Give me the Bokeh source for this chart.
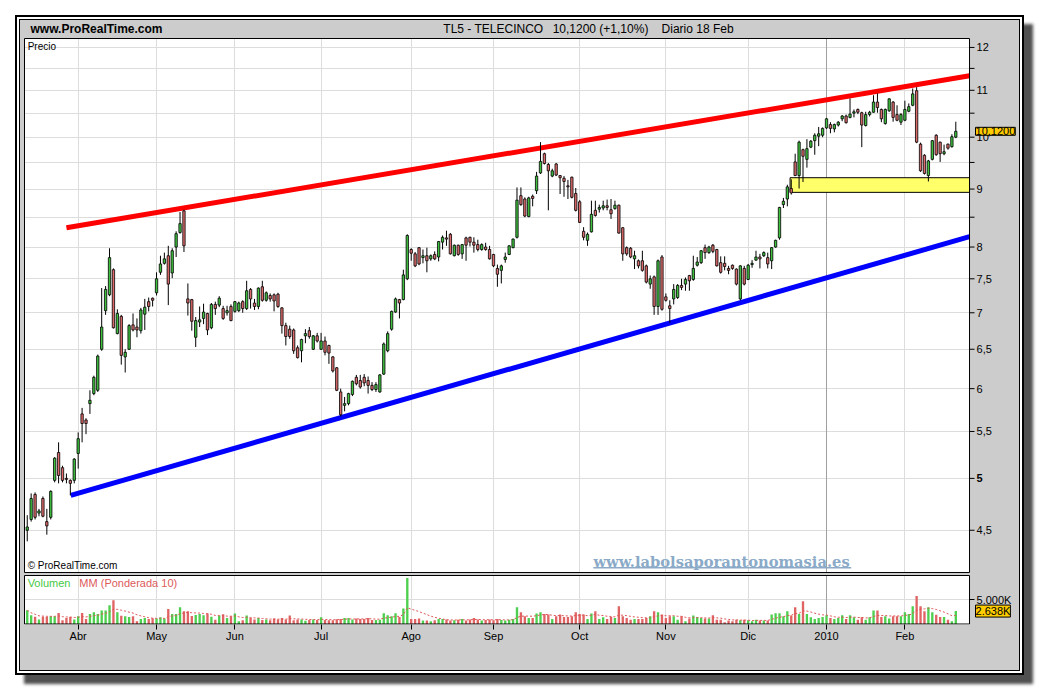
import math
from bokeh.plotting import figure
from bokeh.layouts import column
from bokeh.models import Range1d, FixedTicker, Label, Grid
from bokeh.core.properties import value
from bokeh.embed import file_html
from bokeh.resources import INLINE

# ---------------- data ----------------
month_ticks = [13, 33, 53, 75, 98, 119, 141, 163, 184, 204, 224]
month_labels = ["Abr", "May", "Jun", "Jul", "Ago", "Sep", "Oct", "Nov", "Dic", "2010", "Feb"]
year_tick = [204]
price_ticks = [4.5, 5, 5.5, 6, 6.5, 7, 7.5, 8, 9, 10, 11, 12]
price_tick_labels = ["4,5", "5", "5,5", "6", "6,5", "7", "7,5", "8", "9", "10", "11", "12"]
price_minor = [8.5, 9.5, 10.5, 11.5]
volume_ticks = [5000]
volume_tick_labels = ["5.000K"]

opens = [4.50, 4.60, 4.84, 4.66, 4.80, 4.58, 4.62, 4.98, 5.27, 5.11,
         5.00, 4.98, 4.98, 5.26, 5.70, 5.63, 5.82, 5.94, 5.98, 6.50,
         7.03, 7.26, 7.64, 6.71, 6.95, 6.40, 6.50, 6.83, 6.80, 6.75,
         6.98, 7.16, 7.21, 7.29, 7.60, 7.74, 7.86, 7.59, 8.00, 8.24,
         8.61, 7.20, 7.19, 6.66, 6.87, 6.92, 6.99, 6.79, 7.12, 7.11,
         7.06, 7.00, 7.09, 7.02, 7.03, 7.16, 7.06, 7.34, 7.14, 7.09,
         7.38, 7.18, 7.25, 7.26, 7.27, 7.07, 6.82, 6.77, 6.76, 6.52,
         6.48, 6.68, 6.75, 6.50, 6.68, 6.50, 6.61, 6.55, 6.40, 6.26,
         5.96, 5.80, 5.82, 5.93, 6.14, 6.10, 6.14, 6.10, 6.04, 5.99,
         5.96, 6.18, 6.48, 6.77, 7.01, 7.19, 7.19, 7.50, 7.96, 7.89,
         7.99, 7.83, 7.86, 7.81, 7.88, 7.84, 8.08, 8.15, 8.21, 7.86,
         8.03, 7.89, 8.15, 8.16, 8.08, 8.04, 7.96, 8.00, 7.96, 7.88,
         7.66, 7.63, 7.80, 7.88, 7.99, 8.16, 8.88, 8.82, 8.51, 8.87,
         8.97, 9.30, 9.67, 9.46, 9.24, 9.47, 9.25, 9.20, 9.06, 9.22,
         8.92, 8.77, 8.26, 8.11, 8.25, 8.62, 8.64, 8.66, 8.70, 8.63,
         8.65, 8.71, 8.32, 7.99, 7.98, 7.81, 7.78, 7.78, 7.70, 7.42,
         7.53, 7.09, 7.84, 7.23, 7.10, 7.20, 7.22, 7.40, 7.42, 7.55,
         7.49, 7.71, 7.75, 7.99, 7.91, 8.03, 7.96, 7.75, 7.74, 7.66,
         7.71, 7.65, 7.20, 7.66, 7.49, 7.72, 7.79, 7.84, 7.86, 7.83,
         7.78, 8.00, 8.15, 8.72, 8.82, 9.01, 9.51, 9.25, 9.75, 9.56,
         9.80, 9.93, 10.02, 10.04, 10.19, 10.26, 10.17, 10.25, 10.38, 10.44,
         10.41, 10.50, 10.58, 10.51, 10.24, 10.47, 10.52, 10.74, 10.58, 10.28,
         10.55, 10.74, 10.47, 10.31, 10.35, 10.54, 10.67, 10.99, 9.86, 9.64,
         9.25, 9.56, 10.04, 9.90, 9.67, 9.86, 9.81, 10.00]
highs = [4.64, 4.85, 4.86, 4.70, 4.82, 4.70, 4.88, 5.22, 5.38, 5.13,
         5.05, 4.99, 5.21, 5.49, 5.77, 5.65, 5.98, 6.16, 6.43, 7.36,
         7.39, 7.98, 7.66, 7.05, 6.97, 6.50, 6.84, 6.99, 6.92, 7.07,
         7.20, 7.22, 7.22, 7.60, 7.86, 7.91, 8.02, 7.98, 8.26, 8.59,
         8.63, 7.43, 7.20, 6.94, 7.09, 7.13, 7.00, 7.14, 7.16, 7.24,
         7.10, 7.10, 7.12, 7.17, 7.16, 7.18, 7.47, 7.36, 7.20, 7.37,
         7.47, 7.31, 7.28, 7.28, 7.29, 7.08, 6.86, 6.82, 6.78, 6.55,
         6.64, 6.77, 6.80, 6.69, 6.72, 6.72, 6.67, 6.56, 6.41, 6.27,
         6.00, 5.90, 5.95, 6.10, 6.17, 6.17, 6.18, 6.15, 6.08, 6.08,
         6.18, 6.59, 6.74, 7.03, 7.22, 7.20, 7.64, 8.21, 7.98, 7.92,
         8.00, 7.96, 7.99, 7.88, 7.93, 8.10, 8.19, 8.27, 8.23, 8.04,
         8.04, 8.05, 8.17, 8.17, 8.16, 8.12, 8.06, 8.07, 8.02, 7.89,
         7.72, 7.72, 7.91, 8.03, 8.14, 9.03, 9.03, 8.85, 8.86, 8.90,
         9.32, 9.90, 9.69, 9.49, 9.38, 9.49, 9.26, 9.24, 9.17, 9.23,
         9.02, 8.80, 8.33, 8.24, 8.79, 8.79, 8.72, 8.79, 8.81, 8.82,
         8.79, 8.72, 8.33, 8.01, 8.00, 7.94, 7.80, 7.94, 7.72, 7.55,
         7.55, 7.80, 7.87, 7.28, 7.18, 7.42, 7.42, 7.50, 7.52, 7.56,
         7.86, 7.84, 7.95, 8.04, 8.02, 8.05, 7.97, 7.85, 7.85, 7.70,
         7.72, 7.66, 7.71, 7.70, 7.73, 7.79, 7.94, 7.89, 7.93, 7.91,
         8.00, 8.12, 8.68, 8.84, 9.08, 9.18, 9.67, 9.93, 9.77, 9.96,
         9.94, 10.08, 10.21, 10.20, 10.40, 10.31, 10.28, 10.33, 10.46, 10.47,
         10.82, 10.58, 10.60, 10.53, 10.53, 10.55, 10.89, 10.93, 10.60, 10.60,
         10.82, 10.76, 10.67, 10.50, 10.77, 10.71, 11.04, 11.07, 9.89, 9.66,
         9.55, 9.94, 10.06, 9.91, 9.85, 9.87, 10.06, 10.32]
lows = [4.40, 4.58, 4.60, 4.63, 4.62, 4.46, 4.60, 4.96, 4.95, 4.96,
        4.95, 4.83, 4.95, 5.10, 5.38, 5.47, 5.70, 5.92, 5.96, 6.48,
        6.97, 7.24, 6.78, 6.70, 6.30, 6.20, 6.49, 6.74, 6.66, 6.71,
        6.76, 7.02, 7.09, 7.25, 7.56, 7.72, 7.11, 7.51, 7.84, 8.22,
        7.92, 6.96, 6.75, 6.53, 6.80, 6.84, 6.69, 6.77, 6.97, 7.08,
        6.90, 6.96, 6.88, 7.00, 7.01, 7.00, 7.04, 7.06, 7.04, 7.05,
        7.16, 7.16, 7.16, 7.02, 7.07, 6.71, 6.55, 6.64, 6.44, 6.38,
        6.33, 6.58, 6.64, 6.49, 6.59, 6.49, 6.42, 6.31, 6.20, 5.97,
        5.67, 5.73, 5.80, 5.91, 6.04, 6.00, 6.03, 5.94, 5.97, 5.96,
        5.95, 6.17, 6.46, 6.75, 7.00, 6.92, 7.18, 7.48, 7.78, 7.68,
        7.71, 7.74, 7.60, 7.78, 7.79, 7.77, 7.96, 8.02, 7.88, 7.85,
        7.86, 7.81, 7.78, 8.01, 7.91, 7.93, 7.94, 7.94, 7.80, 7.68,
        7.38, 7.43, 7.75, 7.87, 7.98, 8.14, 8.70, 8.50, 8.50, 8.69,
        8.91, 9.28, 9.46, 8.62, 9.22, 9.24, 8.91, 8.86, 8.82, 8.83,
        8.60, 8.40, 8.11, 8.02, 8.24, 8.51, 8.58, 8.62, 8.62, 8.47,
        8.63, 8.22, 7.78, 7.86, 7.82, 7.65, 7.66, 7.61, 7.43, 7.35,
        6.97, 6.97, 7.03, 7.16, 6.86, 7.12, 7.20, 7.33, 7.32, 7.32,
        7.47, 7.69, 7.73, 7.81, 7.89, 7.90, 7.69, 7.58, 7.63, 7.57,
        7.64, 7.40, 7.18, 7.40, 7.48, 7.67, 7.78, 7.66, 7.84, 7.66,
        7.65, 7.99, 8.12, 8.66, 8.69, 8.90, 9.24, 9.01, 9.13, 9.40,
        9.78, 9.65, 9.82, 10.00, 10.17, 10.08, 10.10, 10.22, 10.33, 10.28,
        10.39, 10.41, 10.48, 9.80, 10.22, 10.43, 10.51, 10.51, 10.31, 10.26,
        10.53, 10.32, 10.33, 10.25, 10.33, 10.52, 10.65, 9.88, 9.32, 9.27,
        9.14, 9.54, 9.63, 9.51, 9.64, 9.75, 9.79, 9.98]
closes = [4.53, 4.80, 4.62, 4.68, 4.63, 4.54, 4.87, 5.21, 5.03, 4.98,
          4.99, 4.95, 5.20, 5.42, 5.59, 5.59, 5.86, 6.14, 6.41, 6.80,
          7.34, 7.83, 6.79, 6.99, 6.42, 6.46, 6.82, 6.76, 6.76, 7.04,
          7.08, 7.09, 7.18, 7.50, 7.73, 7.81, 7.42, 7.94, 8.22, 8.39,
          8.02, 7.14, 6.88, 6.89, 6.90, 7.01, 6.76, 7.12, 7.06, 7.21,
          6.92, 7.03, 6.89, 7.16, 7.14, 7.06, 7.32, 7.20, 7.09, 7.36,
          7.18, 7.29, 7.20, 7.17, 7.09, 6.82, 6.67, 6.67, 6.48, 6.39,
          6.63, 6.71, 6.67, 6.68, 6.61, 6.61, 6.46, 6.45, 6.22, 5.98,
          5.69, 5.82, 5.94, 6.09, 6.06, 6.02, 6.07, 6.04, 5.99, 6.05,
          6.17, 6.57, 6.71, 7.02, 7.20, 7.14, 7.56, 8.19, 7.90, 7.70,
          7.73, 7.86, 7.78, 7.86, 7.81, 8.09, 8.16, 8.13, 7.89, 8.03,
          7.88, 8.04, 8.03, 8.08, 8.03, 7.96, 8.04, 7.96, 7.81, 7.70,
          7.57, 7.70, 7.84, 8.02, 8.13, 8.80, 8.72, 8.52, 8.84, 8.83,
          9.24, 9.52, 9.48, 9.34, 9.34, 9.26, 9.21, 9.14, 9.04, 8.85,
          8.62, 8.41, 8.16, 8.21, 8.55, 8.53, 8.67, 8.70, 8.67, 8.56,
          8.71, 8.23, 7.89, 7.89, 7.84, 7.86, 7.70, 7.63, 7.45, 7.50,
          7.09, 7.78, 7.05, 7.18, 7.06, 7.34, 7.40, 7.37, 7.49, 7.47,
          7.66, 7.76, 7.94, 7.91, 8.00, 7.93, 7.70, 7.60, 7.69, 7.63,
          7.66, 7.42, 7.70, 7.42, 7.71, 7.74, 7.84, 7.81, 7.91, 7.73,
          7.99, 8.11, 8.67, 8.78, 9.04, 8.93, 9.25, 9.90, 9.62, 9.77,
          9.92, 10.04, 10.07, 10.18, 10.38, 10.18, 10.26, 10.31, 10.44, 10.30,
          10.48, 10.53, 10.52, 10.25, 10.47, 10.52, 10.74, 10.62, 10.38, 10.58,
          10.81, 10.41, 10.35, 10.47, 10.58, 10.64, 10.92, 9.90, 9.34, 9.29,
          9.53, 9.93, 9.65, 9.67, 9.71, 9.78, 10.01, 10.12]
# volume in thousands of shares
volumes = [2800, 1800, 1500, 900, 1500, 1450, 1600, 1600, 2250, 750,
           1230, 1450, 900, 1600, 2260, 1030, 2050, 2400, 2050, 2740,
           2740, 3840, 4860, 2400, 1700, 1580, 1440, 1580, 550, 1030,
           1230, 1030, 1160, 1100, 1370, 1100, 3080, 2050, 2050, 3420,
           2600, 2600, 1640, 1850, 2050, 1780, 2120, 1500, 890, 1710,
           1990, 1230, 1580, 2120, 550, 750, 1710, 1230, 900, 1230,
           820, 900, 750, 1100, 900, 1230, 900, 1710, 750, 900,
           900, 680, 820, 900, 820, 1370, 820, 750, 750, 960,
           1030, 1230, 1230, 900, 1100, 1030, 1030, 1230, 820, 820,
           890, 2190, 1780, 1580, 2190, 1440, 3150, 9400,
           1030, 1030, 1100, 690, 690, 550, 750, 1030, 1030, 900, 690,
           750, 890, 1030, 690, 900, 1230, 900, 690, 820, 900, 750, 1030, 820, 690, 890, 1030,
           3420,
           2400, 1580, 1230, 1230, 2120, 2400, 2050, 1920, 1030, 1580,
           1920, 1440, 1440, 1580, 2400, 2050, 1920, 1030, 2120, 2600,
           1030, 1370, 1030, 1440, 1230, 3630, 1580, 1230, 890, 1030,
           1030, 1030, 1230, 1580, 2600, 2400, 1920, 1230, 1580, 1580,
           890, 1580, 550, 1100, 1710, 1440, 1230, 1100, 1100, 1780,
           890, 890, 340, 690, 550, 890, 750, 890, 750, 550,
           890, 690, 690, 690, 1920, 2190, 2190, 1580, 2600, 1710,
           3420, 2050, 4660, 2050, 1370, 1030, 1230, 1440, 1780, 1230,
           1030, 1230, 1780, 1030, 1780, 1370, 890, 1370, 890, 1370,
           2740, 2740, 1440, 1580, 1100, 1580, 1580, 1580, 2400, 2050,
           3630, 5690,
           3630, 2600, 3420, 2400, 1900, 1440, 1440, 890, 550, 2638]

red_trend_x = [10.0, 240.5]
red_trend_y = [8.32, 11.33]
blue_trend_x = [11.1, 240.5]
blue_trend_y = [4.83, 8.17]
zone_x = [194.7, 240.5]
zone_y = [8.94, 9.21]
last_price = 10.12
last_price_text = "10,1200"
last_volume = 2638
last_volume_text = "2.638K"
header_left = "www.ProRealTime.com"
header_parts = ["TL5 - TELECINCO", "10,1200 (+1,10%)", "Diario  18 Feb"]
watermark = "www.labolsaporantonomasia.es"

# ---------------- derived ----------------
n = len(closes)
idx = list(range(n))
up = [c >= o for o, c in zip(opens, closes)]
body_top = [max(o, c) for o, c in zip(opens, closes)]
body_bot = [min(o, c) for o, c in zip(opens, closes)]
body_col = ["#3fc03f" if u else "#dc6a6a" for u in up]
vol_col = ["#4fcf4f" if u else "#e06464" for u in up]
wma = []
for t in range(n):
    num = den = 0.0
    for k in range(10):
        if t - k < 0:
            break
        w = 10 - k
        num += w * volumes[t - k]
        den += w
    wma.append(num / den)

# ---------------- geometry / styles ----------------
FONT = "Liberation Sans"
GRID = "#dddddd"
PANEL = "#cccccc"
PX = 3.918            # pixels per trading day
LOGPX = 492.0         # pixels per natural-log unit of price
XP0, XP1 = -0.7, 240.5            # plot area in index units
XR0 = XP0 - 4 / PX                # frame starts 4px left of plot area
XR1 = XP0 + 995 / PX              # frame spans the gray right strip
YP0, YP1 = 4.13, 12.22            # price plot area
YR0 = YP0 * math.exp(-2 / LOGPX)
YR1 = YP1 * math.exp(18 / LOGPX)  # header strip above plot area
VP1 = 9900
VPX = 48.5 / VP1
TICK_X1 = XP1 + 5 / PX
LABEL_X = XP1 + 7 / PX
BOX_X = XP1 + 6 / PX


def lab(fig, x, y, text, size="11px", color="black", font=FONT, style="normal",
        align="left", baseline="middle", **kw):
    fig.add_layout(Label(x=x, y=y, text=text, text_font_size=size, text_color=color,
                         text_font=font, text_font_style=style, text_align=align,
                         text_baseline=baseline, **kw))


# ---------------- price panel ----------------
x_range = Range1d(XR0, XR1)
p = figure(width=999, height=554, x_range=x_range, y_range=Range1d(YR0, YR1),
           y_axis_type="log", y_axis_location=None, x_axis_location=None,
           toolbar_location=None, output_backend="svg", title=None,
           min_border_left=0, min_border_right=0, min_border_top=0, min_border_bottom=0)
p.background_fill_color = PANEL
p.border_fill_color = PANEL
p.outline_line_color = None

p.quad(left=XP0, right=XP1, bottom=YP0, top=YP1, fill_color="white", line_color=None, level="image")
p.xgrid.ticker = FixedTicker(ticks=month_ticks)
p.xgrid.grid_line_color = GRID
p.xgrid.cross_bounds = (YP0, YP1)
p.ygrid.ticker = FixedTicker(ticks=price_ticks + price_minor)
p.ygrid.grid_line_color = GRID
p.ygrid.cross_bounds = (XP0, XP1)
p.add_layout(Grid(dimension=0, ticker=FixedTicker(ticks=year_tick), grid_line_color="#a0a0a0",
                  cross_bounds=(YP0, YP1)))

p.quad(left=zone_x[0], right=zone_x[1], bottom=zone_y[0], top=zone_y[1],
       fill_color="#ffff6a", line_color="black", line_width=1)
p.line(red_trend_x, red_trend_y, line_color="#ff0000", line_width=5)
p.line(blue_trend_x, blue_trend_y, line_color="#0000ff", line_width=5)
p.segment(x0=idx, y0=lows, x1=idx, y1=highs, line_color="black", line_width=1)
p.vbar(x=idx, width=0.6, top=body_top, bottom=body_bot, fill_color=body_col,
       line_color="black", line_width=0.8)

# watermark with its underline
wm_x0, wm_x1, wm_y = 144.5, 210.3, 4.222
lab(p, wm_x0, wm_y, watermark, size="14.7px", color="#8aaac8", font="DejaVu Serif", style="bold")
p.segment(x0=[wm_x0], y0=[wm_y * math.exp(-6 / LOGPX)], x1=[wm_x1], y1=[wm_y * math.exp(-6 / LOGPX)],
          line_color="#8aaac8", line_width=1.5)

p.quad(left=XP0, right=XP1, bottom=YP0, top=YP1, fill_color=None, line_color="black", line_width=1)

# right price scale (ticks + labels placed with the price scale)
all_ticks = price_ticks + price_minor
p.segment(x0=[XP1] * len(all_ticks), y0=all_ticks, x1=[TICK_X1] * len(all_ticks), y1=all_ticks,
          line_color="black", line_width=1)
norm_t = [t for t, s in zip(price_ticks, price_tick_labels) if s != "5"]
norm_s = [s for s in price_tick_labels if s != "5"]
p.text(x=[LABEL_X] * len(norm_t), y=norm_t, text=norm_s, text_font=value(FONT),
       text_font_size="11px", text_baseline="middle", text_align="left", text_color="black")
p.text(x=[LABEL_X], y=[5], text=["5"], text_font=value(FONT), text_font_style="bold",
       text_font_size="11px", text_baseline="middle", text_align="left", text_color="black")

header_y = 12.0 * math.exp(18 / LOGPX)
lab(p, 0.83, header_y, header_left, size="12px", style="bold")
for xx, t in zip([106.2, 134.1, 161.9], header_parts):
    lab(p, xx, header_y, t, size="12px")
lab(p, 0.1, 12.16, "Precio", size="10px", baseline="top")
lab(p, 0.1, 4.19, "\u00a9 ProRealTime.com", size="10px")
lab(p, BOX_X, last_price, last_price_text, background_fill_color="#ffcc00",
    border_line_color="black")

# ---------------- volume panel ----------------
v = figure(width=999, height=96, x_range=x_range, y_range=Range1d(-0.5 / VPX, VP1 + 1.0 / VPX),
           y_axis_location=None, toolbar_location=None, output_backend="svg", title=None,
           min_border_left=0, min_border_right=0, min_border_top=0, min_border_bottom=46)
v.background_fill_color = PANEL
v.border_fill_color = PANEL
v.outline_line_color = None
xax = v.xaxis[0]
xax.ticker = FixedTicker(ticks=month_ticks)
xax.major_label_overrides = {t: l for t, l in zip(month_ticks, month_labels)}
xax.axis_line_color = None
xax.major_tick_in = 0
xax.major_tick_out = 5
xax.minor_tick_line_color = None
xax.major_label_standoff = 0
xax.major_label_text_font = FONT
xax.major_label_text_font_size = "11px"
xax.major_label_text_color = "black"

v.quad(left=XP0, right=XP1, bottom=0, top=VP1, fill_color="white", line_color=None, level="image")
v.xgrid.grid_line_color = GRID
v.xgrid.cross_bounds = (0, VP1)
v.ygrid.ticker = FixedTicker(ticks=volume_ticks)
v.ygrid.grid_line_color = GRID
v.ygrid.cross_bounds = (XP0, XP1)
v.add_layout(Grid(dimension=0, ticker=FixedTicker(ticks=year_tick), grid_line_color="#a0a0a0",
                  cross_bounds=(0, VP1)))

v.vbar(x=idx, width=0.6, top=volumes, bottom=0, fill_color=vol_col, line_color=None)
v.line(idx, wma, line_color="#dd5555", line_width=1, line_dash="2 2")
v.quad(left=XP0, right=XP1, bottom=0, top=VP1, fill_color=None, line_color="black", line_width=1)

v.segment(x0=[XP1] * len(volume_ticks), y0=volume_ticks, x1=[TICK_X1] * len(volume_ticks),
          y1=volume_ticks, line_color="black", line_width=1)
v.text(x=[LABEL_X] * len(volume_ticks), y=volume_ticks, text=volume_tick_labels,
       text_font=value(FONT), text_font_size="11px", text_baseline="middle",
       text_align="left", text_color="black")

lab(v, 0.1, 8450, "Volumen", color="#44c844")
lab(v, 13.3, 8450, "MM (Ponderada 10)", color="#dd5a5a")
lab(v, BOX_X, last_volume, last_volume_text, background_fill_color="#ffcc00",
    border_line_color="black")

layout = column(p, v, spacing=0, margin=(20, 0, 0, 20),
                styles={"background-color": PANEL,
                        "box-shadow": "0 0 0 1px #000, 0 0 0 3px #fff, 0 0 0 5px #000, 9px 9px 3px 5px #505050"})

open("out.html", "w").write(file_html(layout, INLINE))
